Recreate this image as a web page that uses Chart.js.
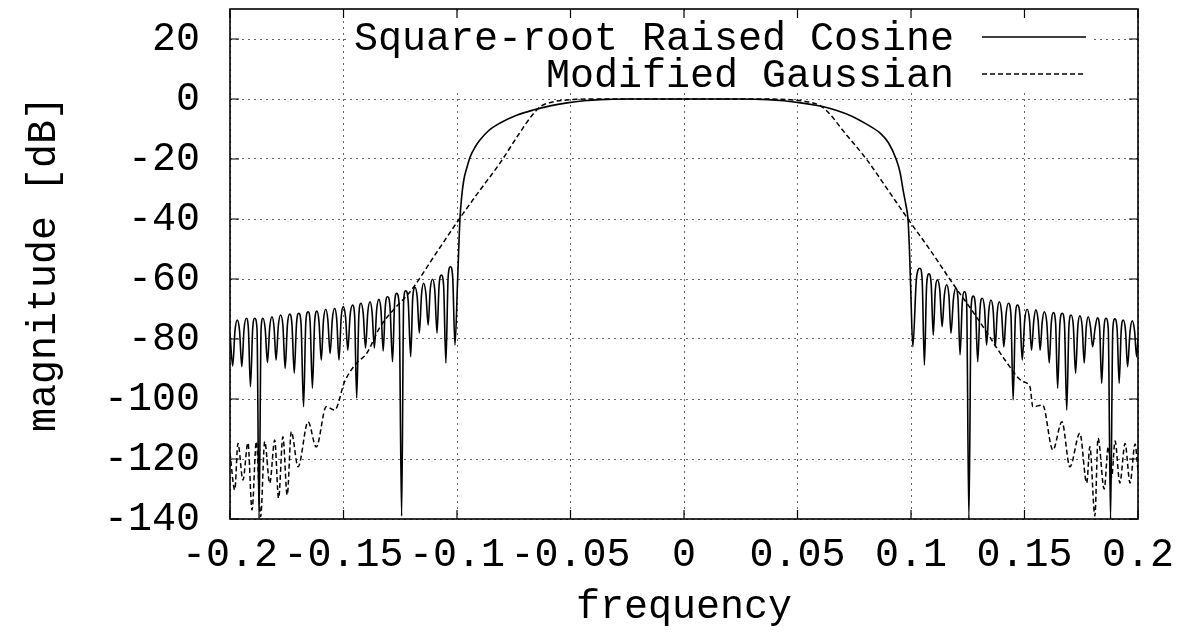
<!DOCTYPE html>
<html>
<head>
<meta charset="utf-8">
<script src="https://cdn.jsdelivr.net/npm/chart.js@4/dist/chart.umd.min.js"></script>
<style>
html,body{margin:0;padding:0;background:#fff;}
#wrap{width:1194px;height:633px;}
</style>
</head>
<body>
<div id="wrap"><canvas id="c" width="1194" height="633"></canvas></div>
<script>
// ---- data ----
const xTicks = [-0.2, -0.15, -0.1, -0.05, 0, 0.05, 0.1, 0.15, 0.2];
const xTickLabels = ['-0.2', '-0.15', '-0.1', '-0.05', '0', '0.05', '0.1', '0.15', '0.2'];
const yTicks = [-140, -120, -100, -80, -60, -40, -20, 0, 20];
const seriesNames = ['Square-root Raised Cosine', 'Modified Gaussian'];

const srrcFreq = [
 -0.2000,-0.1988,-0.1978,-0.1968,-0.1958,-0.1948,-0.1938,-0.1928,-0.1919,-0.1910,
 -0.1900,-0.1891,-0.1881,-0.1872,-0.1863,-0.1855,-0.1845,-0.1835,-0.1825,-0.1815,
 -0.1806,-0.1797,-0.1787,-0.1777,-0.1767,-0.1757,-0.1747,-0.1737,-0.1727,-0.1717,
 -0.1707,-0.1697,-0.1687,-0.1676,-0.1666,-0.1656,-0.1647,-0.1637,-0.1627,-0.1617,
 -0.1608,-0.1598,-0.1588,-0.1578,-0.1569,-0.1559,-0.1549,-0.1539,-0.1530,-0.1520,
 -0.1510,-0.1501,-0.1491,-0.1481,-0.1471,-0.1460,-0.1451,-0.1442,-0.1432,-0.1423,
 -0.1413,-0.1403,-0.1393,-0.1383,-0.1374,-0.1364,-0.1354,-0.1344,-0.1335,-0.1325,
 -0.1316,-0.1306,-0.1295,-0.1284,-0.1275,-0.1266,-0.1255,-0.1244,-0.1235,-0.1226,
 -0.1215,-0.1204,-0.1195,-0.1185,-0.1175,-0.1166,-0.1156,-0.1147,-0.1137,-0.1127,
 -0.1118,-0.1108,-0.1098,-0.1088,-0.1079,-0.1069,-0.1059,-0.1049,-0.1039,-0.1029,
 -0.1019,-0.1009,-0.0998,-0.0990,-0.0987,-0.0980,-0.0970,-0.0955,-0.0943,-0.0920,
 -0.0899,-0.0860,-0.0810,-0.0740,-0.0665,-0.0590,-0.0515,-0.0440,-0.0370,-0.0250,
 0.0000,0.0250,0.0370,0.0440,0.0515,0.0580,0.0615,0.0680,0.0744,0.0800,
 0.0863,0.0900,0.0936,0.0952,0.0965,0.0978,0.0987,0.0994,0.0999,0.1008,
 0.1024,0.1039,0.1049,0.1059,0.1069,0.1079,0.1089,0.1098,0.1107,0.1116,
 0.1127,0.1137,0.1147,0.1157,0.1167,0.1176,0.1187,0.1197,0.1207,0.1216,
 0.1226,0.1235,0.1245,0.1255,0.1265,0.1274,0.1284,0.1294,0.1304,0.1314,
 0.1324,0.1333,0.1343,0.1352,0.1362,0.1371,0.1380,0.1389,0.1399,0.1409,
 0.1419,0.1429,0.1440,0.1450,0.1460,0.1469,0.1480,0.1490,0.1501,0.1512,
 0.1522,0.1531,0.1541,0.1550,0.1560,0.1569,0.1578,0.1587,0.1598,0.1609,
 0.1618,0.1627,0.1637,0.1646,0.1656,0.1666,0.1676,0.1686,0.1696,0.1705,
 0.1715,0.1725,0.1735,0.1744,0.1754,0.1763,0.1772,0.1781,0.1791,0.1800,
 0.1811,0.1821,0.1831,0.1840,0.1850,0.1859,0.1869,0.1879,0.1889,0.1898,
 0.1908,0.1917,0.1926,0.1935,0.1945,0.1954,0.1965,0.1975,0.1985,0.1994,
 0.2000
];
const srrcDb = [
 -78,-89,-77.2,-73.7,-77.2,-89.2,-76.6,-73.1,-76.6,-95.9,
 -76.6,-73.1,-76.6,-140,-76.6,-73.1,-76.6,-87.8,-76.1,-72.6,
 -76.1,-87,-75.5,-72,-75.5,-89.8,-75.2,-71.7,-75.2,-91.4,
 -74.9,-71.4,-74.9,-102.6,-74.4,-70.9,-74.4,-96.4,-74.2,-70.7,
 -74.2,-87,-73.6,-70.1,-73.6,-84.8,-73.3,-69.8,-73.3,-87,
 -72.7,-69.2,-72.7,-83.7,-72.2,-68.7,-72.2,-99.7,-71.6,-68.1,
 -71.6,-83,-71.1,-67.6,-71.1,-83,-70.3,-66.8,-70.3,-84,
 -69.4,-65.9,-69.4,-87.6,-68.3,-64.8,-68.3,-139,-67.4,-63.9,
 -67.4,-85.9,-66.3,-62.8,-66.3,-78,-64.9,-61.4,-64.9,-75.3,
 -63.6,-60.1,-63.6,-78,-62.2,-58.7,-62.2,-88,-59.4,-55.9,
 -59.4,-82,-62,-45,-40,-33,-27,-22.5,-19.5,-16,
 -13.7,-10.5,-8,-5.5,-3.7,-2.3,-1.3,-0.6,-0.2,0,
 0,0,-0.2,-0.6,-1.3,-2.1,-2.6,-4,-5.9,-8.2,
 -11.3,-14.5,-20.3,-24.5,-30.3,-35.5,-40.3,-52,-64,-82.6,
 -59.9,-56.4,-59.9,-88.7,-61.8,-58.3,-61.8,-78.7,-63.8,-60.3,
 -63.8,-75.9,-65.4,-61.9,-65.4,-78.1,-66.6,-63.1,-66.6,-85.3,
 -67.7,-64.2,-67.7,-140,-69.2,-65.7,-69.2,-87.6,-69.9,-66.4,
 -69.9,-82,-70.5,-67,-70.5,-82.6,-71.1,-67.6,-71.1,-82.6,
 -71.6,-68.1,-71.6,-100.3,-72.2,-68.7,-72.2,-87,-73.6,-70.1,
 -73.6,-83.7,-73.8,-70.3,-73.8,-83.7,-74.4,-70.9,-74.4,-88,
 -74.7,-71.2,-74.7,-96.4,-74.9,-71.4,-74.9,-103.7,-75.5,-72,
 -75.5,-91.4,-75.8,-72.3,-75.8,-88,-76.1,-72.6,-76.1,-82.6,
 -76.4,-72.9,-76.4,-94.8,-76.6,-73.1,-76.6,-140,-76.8,-73.3,
 -76.8,-94.8,-77.2,-73.7,-77.2,-89.2,-77.4,-73.9,-77.4,-85.9,
 -80
];

const gaussFreq = [
 -0.2000,-0.1979,-0.1965,-0.1943,-0.1921,-0.1903,-0.1884,-0.1865,-0.1847,-0.1825,
 -0.1803,-0.1786,-0.1767,-0.1748,-0.1730,-0.1700,-0.1656,-0.1620,-0.1576,-0.1539,
 -0.1495,-0.1442,-0.1398,-0.1339,-0.1194,-0.1106,-0.0990,-0.0900,-0.0810,-0.0730,
 -0.0670,-0.0630,-0.0580,-0.0515,-0.0400,0.0000,0.0350,0.0480,0.0550,0.0600,
 0.0640,0.0700,0.0806,0.0900,0.0995,0.1084,0.1194,0.1267,0.1340,0.1414,
 0.1493,0.1524,0.1537,0.1580,0.1625,0.1665,0.1700,0.1744,0.1774,0.1788,
 0.1810,0.1824,0.1851,0.1869,0.1884,0.1899,0.1920,0.1943,0.1965,0.1987,
 0.2000
];
const gaussDb = [
 -118,-130.3,-114.8,-127,-114.6,-137,-114.2,-139.2,-114.2,-128.1,
 -113.7,-133.1,-112.6,-132,-110.9,-122.6,-107.6,-116,-102.6,-103.7,
 -94.2,-88,-84.8,-76,-63,-53,-40,-30.5,-21.3,-12,
 -5.5,-2.4,-1.0,-0.3,0,0,0,-0.3,-1.0,-2.2,
 -4.8,-10.5,-20.3,-30.5,-40.9,-50.3,-62.6,-70.3,-78.5,-87,
 -94.2,-95.9,-102.6,-102,-117,-107.6,-122.6,-111.4,-128,-115.9,
 -139,-113,-130,-115.9,-126,-114,-128,-114.8,-128,-115,
 -124
];

// ---- chart ----
const FONT = 'Liberation Mono, Courier New, monospace';
const toPts = (xs, ys) => xs.map((x, i) => ({x: x, y: ys[i]}));

const framePlugin = {
  id: 'frame',
  beforeDatasetsDraw(chart) {
    const ctx = chart.ctx, a = chart.chartArea;
    ctx.save();
    ctx.fillStyle = '#fff';
    ctx.fillRect(a.left + 120, a.top + 3, a.right - a.left - 166, 80);
    ctx.restore();
  },
  afterDraw(chart) {
    const ctx = chart.ctx, a = chart.chartArea;
    const xs = chart.scales.x, ys = chart.scales.y;
    ctx.save();
    ctx.strokeStyle = '#000';
    ctx.lineWidth = 1.6;
    ctx.setLineDash([]);
    ctx.strokeRect(a.left, a.top, a.right - a.left, a.bottom - a.top);
    ctx.lineWidth = 1.2;
    ctx.beginPath();
    xTicks.forEach(v => {
      const px = xs.getPixelForValue(v);
      ctx.moveTo(px, a.bottom); ctx.lineTo(px, a.bottom - 9);
      ctx.moveTo(px, a.top); ctx.lineTo(px, a.top + 9);
    });
    yTicks.forEach(v => {
      const py = ys.getPixelForValue(v);
      ctx.moveTo(a.left, py); ctx.lineTo(a.left + 9, py);
      ctx.moveTo(a.right, py); ctx.lineTo(a.right - 9, py);
    });
    ctx.stroke();
    // legend
    ctx.font = '40px ' + FONT;
    ctx.fillStyle = '#000';
    ctx.textAlign = 'right';
    ctx.textBaseline = 'alphabetic';
    const tx = a.right - 184;
    ctx.fillText(seriesNames[0], tx, a.top + 41);
    ctx.fillText(seriesNames[1], tx, a.top + 78);
    ctx.lineWidth = 1.4;
    ctx.beginPath();
    ctx.moveTo(a.right - 156, a.top + 28); ctx.lineTo(a.right - 52, a.top + 28);
    ctx.stroke();
    ctx.setLineDash([5, 3]);
    ctx.beginPath();
    ctx.moveTo(a.right - 156, a.top + 65); ctx.lineTo(a.right - 52, a.top + 65);
    ctx.stroke();
    ctx.restore();
  }
};

new Chart(document.getElementById('c'), {
  type: 'line',
  data: {
    datasets: [
      {
        label: seriesNames[0],
        data: toPts(srrcFreq, srrcDb),
        borderColor: '#000',
        borderWidth: 1.6,
        pointRadius: 0,
        cubicInterpolationMode: 'monotone',
        fill: false
      },
      {
        label: seriesNames[1],
        data: toPts(gaussFreq, gaussDb),
        borderColor: '#000',
        borderWidth: 1.5,
        borderDash: [5, 3],
        pointRadius: 0,
        cubicInterpolationMode: 'monotone',
        fill: false
      }
    ]
  },
  options: {
    responsive: false,
    animation: false,
    events: [],
    layout: { padding: { left: 0, right: 56, top: 9, bottom: 0 } },
    plugins: { legend: { display: false }, tooltip: { enabled: false } },
    scales: {
      x: {
        type: 'linear',
        min: -0.2, max: 0.2,
        afterBuildTicks: s => { s.ticks = xTicks.map(v => ({value: v})); },
        afterFit: s => { s.height = 114; s.paddingLeft = 0; s.paddingRight = 0; },
        ticks: {
          autoSkip: false, maxRotation: 0, minRotation: 0, padding: 12,
          color: '#000', font: { family: FONT, size: 40 },
          callback: (v, i) => xTickLabels[i]
        },
        grid: { color: 'rgba(0,0,0,0.6)', lineWidth: 1, drawTicks: false },
        border: { display: false, dash: [2, 4] },
        title: {
          display: true, text: 'frequency', color: '#000',
          font: { family: FONT, size: 40 }, padding: { top: 0, bottom: 2 }
        }
      },
      y: {
        type: 'linear',
        min: -140, max: 30,
        afterBuildTicks: s => { s.ticks = yTicks.map(v => ({value: v})); },
        afterFit: s => { s.width = 230; s.paddingTop = 0; s.paddingBottom = 0; },
        ticks: {
          padding: 30, color: '#000', font: { family: FONT, size: 40 },
          callback: v => String(v)
        },
        grid: { color: 'rgba(0,0,0,0.6)', lineWidth: 1, drawTicks: false },
        border: { display: false, dash: [2, 4] },
        title: {
          display: true, text: 'magnitude [dB]', color: '#000',
          font: { family: FONT, size: 40 }, padding: { top: 20, bottom: 0 }
        }
      }
    }
  },
  plugins: [framePlugin]
});
</script>
</body>
</html>
